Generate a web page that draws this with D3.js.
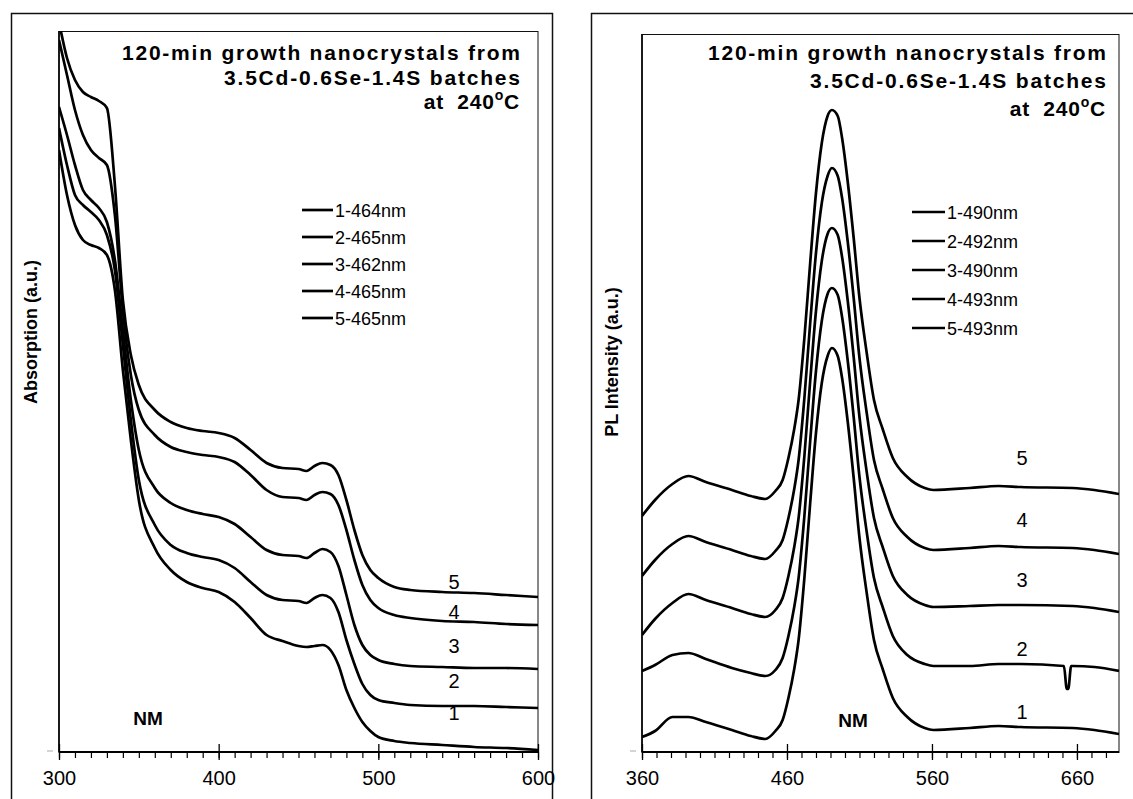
<!DOCTYPE html>
<html>
<head>
<meta charset="utf-8">
<script src="https://cdn.jsdelivr.net/npm/d3@7"></script>
<style>
  body { margin: 0; background: #fff; }
  svg { display: block; font-family: "Liberation Sans", Arial, sans-serif; }
  text { white-space: pre; }
</style>
</head>
<body>
<svg id="chart" width="1133" height="799"></svg>
<script>
// ---- data ----
const titleLines = ["120-min growth nanocrystals from", "3.5Cd-0.6Se-1.4S batches"];
const titleTemp = ["at  240", "o", "C"];

const absTicks = [300, 400, 500, 600];
const plTicks = [360, 460, 560, 660];

const absLegend = ["1-464nm", "2-465nm", "3-462nm", "4-465nm", "5-465nm"];
const plLegend = ["1-490nm", "2-492nm", "3-490nm", "4-493nm", "5-493nm"];
const curveNames = ["1", "2", "3", "4", "5"];

// absorption, wavelength (nm)
const absNm = [300,305,310,315,320,325,330,335,340,345,350,360,370,380,390,400,410,420,430,440,
  450,455,460,465,470,475,480,485,490,495,500,510,520,540,560,580,600];
const abs1 = [6.02,5.57,5.27,5.12,5.07,5.04,4.97,4.62,3.82,3.12,2.52,2.04,1.82,1.70,1.64,1.60,1.50,1.34,1.17,1.11,
  1.06,1.05,1.06,1.07,1.02,0.87,0.62,0.44,0.30,0.21,0.15,0.11,0.09,0.07,0.05,0.04,0.02];
const abs2 = [6.24,5.87,5.57,5.47,5.40,5.32,5.17,4.82,4.07,3.32,2.72,2.27,2.07,1.99,1.95,1.92,1.84,1.70,1.57,1.52,
  1.51,1.49,1.54,1.57,1.54,1.40,1.12,0.88,0.68,0.57,0.52,0.49,0.47,0.46,0.46,0.45,0.44];
const abs3 = [6.45,6.17,5.87,5.62,5.52,5.44,5.30,4.92,4.22,3.52,3.02,2.64,2.49,2.42,2.38,2.35,2.28,2.15,2.02,1.97,
  1.96,1.94,1.99,2.03,2.00,1.86,1.57,1.27,1.07,0.97,0.92,0.88,0.86,0.85,0.84,0.84,0.83];
const abs4 = [7.12,6.77,6.42,6.17,6.02,5.94,5.87,5.37,4.42,3.77,3.42,3.17,3.05,3.00,2.97,2.95,2.90,2.77,2.62,2.55,
  2.54,2.52,2.57,2.60,2.58,2.47,2.22,1.92,1.67,1.52,1.44,1.37,1.34,1.31,1.30,1.28,1.27];
const abs5 = [7.30,6.94,6.72,6.60,6.55,6.51,6.44,5.67,4.52,3.97,3.67,3.42,3.30,3.24,3.21,3.19,3.14,3.02,2.89,2.84,
  2.83,2.81,2.86,2.89,2.87,2.77,2.52,2.22,1.97,1.82,1.74,1.65,1.62,1.60,1.59,1.57,1.55];

// photoluminescence, wavelength (nm)
const plNm = [360,369,381,392,404,422,435,445,452,457,461,465,468,472,476,480,484,488,491,495,
  498,502,506,510,515,520,526,533,543,555,561,586,606,621,657,672,689];
const plNm2 = [360,369,381,392,404,422,435,445,452,457,461,465,468,472,476,480,484,488,491,495,
  498,502,506,510,515,520,526,533,543,555,561,586,606,621,651,653,654,656,657,672,689];
const pl1 = [0.15,0.21,0.35,0.35,0.30,0.22,0.16,0.13,0.21,0.32,0.54,0.83,1.12,1.74,2.49,3.19,3.69,3.96,4.04,3.96,
  3.74,3.29,2.74,2.14,1.59,1.12,0.83,0.54,0.35,0.24,0.22,0.24,0.26,0.25,0.24,0.22,0.18];
const pl2 = [0.81,0.87,0.97,0.99,0.93,0.84,0.79,0.76,0.82,0.94,1.16,1.45,1.74,2.36,3.11,3.81,4.31,4.58,4.64,4.57,
  4.35,3.90,3.35,2.75,2.20,1.74,1.45,1.16,0.97,0.88,0.86,0.86,0.88,0.88,0.86,0.63,0.63,0.86,0.86,0.85,0.81];
const pl3 = [1.17,1.33,1.49,1.58,1.52,1.44,1.38,1.35,1.42,1.54,1.76,2.05,2.34,2.96,3.71,4.41,4.91,5.18,5.24,5.17,
  4.95,4.50,3.95,3.35,2.80,2.34,2.05,1.76,1.57,1.47,1.45,1.46,1.47,1.47,1.46,1.44,1.40];
const pl4 = [1.76,1.92,2.08,2.16,2.10,2.02,1.96,1.93,2.01,2.12,2.34,2.63,2.92,3.54,4.29,4.99,5.49,5.76,5.84,5.76,
  5.54,5.09,4.54,3.94,3.39,2.92,2.63,2.34,2.15,2.04,2.02,2.04,2.06,2.05,2.04,2.02,1.98];
const pl5 = [2.36,2.52,2.68,2.76,2.70,2.62,2.56,2.53,2.61,2.72,2.94,3.23,3.52,4.14,4.89,5.59,6.09,6.36,6.42,6.36,
  6.14,5.69,5.14,4.54,3.99,3.52,3.23,2.94,2.75,2.64,2.62,2.64,2.66,2.65,2.64,2.62,2.58];

// ---- drawing ----
const svg = d3.select("#chart");
svg.append("rect").attr("width", 1133).attr("height", 799).attr("fill", "#fff");

const panels = [
  {
    frame: { x: 11, y: 13, w: 541 },
    plot: { x0: 59, x1: 538, y0: 31, y1: 752 },
    xDomain: [300, 600], yMax: 7.21, majors: absTicks,
    series: [[absNm, abs1], [absNm, abs2], [absNm, abs3], [absNm, abs4], [absNm, abs5]],
    yTitle: "Absorption (a.u.)", yTitlePos: [31, 332],
    titleRight: 520, titleY: [60, 85, 109], titleW: [398, 296],
    legend: absLegend, legendX: 302, legendLen: 31, legendY: [210, 237, 264, 291, 318],
    labelX: 454, labelY: [713, 681, 646, 612, 582],
    nm: [148, 718]
  },
  {
    frame: { x: 591, y: 13, w: 600 },
    plot: { x0: 642, x1: 1119, y0: 34, y1: 752 },
    xDomain: [360, 689], yMax: 7.18, majors: plTicks,
    series: [[plNm, pl1], [plNm2, pl2], [plNm, pl3], [plNm, pl4], [plNm, pl5]],
    yTitle: "PL Intensity (a.u.)", yTitlePos: [612, 362],
    titleRight: 1106, titleY: [60, 88, 116], titleW: [398, 296],
    legend: plLegend, legendX: 912, legendLen: 33, legendY: [212, 241, 270, 299, 328],
    labelX: 1022, labelY: [712, 649, 580, 520, 458],
    nm: [853, 720]
  }
];

panels.forEach((p, pi) => {
  const g = svg.append("g");
  const { x0, x1, y0, y1 } = p.plot;

  // outer chart frame
  g.append("rect")
    .attr("x", p.frame.x + 0.5).attr("y", p.frame.y + 0.5)
    .attr("width", p.frame.w).attr("height", 900)
    .attr("fill", "none").attr("stroke", "#111").attr("stroke-width", 1.5);

  const x = d3.scaleLinear().domain(p.xDomain).range([x0, x1]);
  const y = d3.scaleLinear().domain([0, p.yMax]).range([y1, y0]);

  // plot area border
  g.append("rect")
    .attr("x", x0).attr("y", y0 + 0.5)
    .attr("width", x1 - x0).attr("height", y1 - y0)
    .attr("fill", "none").attr("stroke", "#111").attr("stroke-width", 1);

  g.append("line")
    .attr("x1", x0).attr("x2", x0).attr("y1", y0).attr("y2", y1)
    .attr("stroke", "#000").attr("stroke-width", 1.6);

  // tiny grey tick at the bottom of the value axis
  g.append("line")
    .attr("x1", x0 - 12).attr("x2", x0 - 6).attr("y1", y1 - 1).attr("y2", y1 - 1)
    .attr("stroke", "#aaa").attr("stroke-width", 1);

  // minor ticks every 10 nm
  const minor = d3.range(p.xDomain[0], p.xDomain[1] + 1, 10);
  g.append("g")
    .attr("transform", `translate(0,${y1})`)
    .call(d3.axisBottom(x).tickValues(minor).tickSize(6).tickFormat(""))
    .call(a => a.select(".domain").remove())
    .call(a => a.selectAll(".tick line").attr("stroke", "#000").attr("stroke-width", 1.2));

  // major ticks crossing the axis, with labels
  g.append("g")
    .attr("transform", `translate(0,${y1})`)
    .call(d3.axisBottom(x).tickValues(p.majors).tickSize(8).tickPadding(11).tickFormat(d3.format("d")))
    .call(a => a.select(".domain").remove())
    .call(a => a.selectAll(".tick line").attr("y1", -8).attr("y2", 8)
      .attr("stroke", "#000").attr("stroke-width", 1.3))
    .call(a => a.selectAll(".tick text")
      .attr("font-size", 20).attr("fill", "#000")
      .attr("font-family", "Liberation Sans, Arial, sans-serif"));

  g.append("line")
    .attr("x1", x0).attr("x2", x1).attr("y1", y1).attr("y2", y1)
    .attr("stroke", "#000").attr("stroke-width", 2);

  // curves
  const clipId = "clip" + pi;
  g.append("clipPath").attr("id", clipId)
    .append("rect").attr("x", x0).attr("y", y0).attr("width", x1 - x0).attr("height", y1 - y0);

  const line = d3.line()
    .x(d => x(d[0]))
    .y(d => y(d[1]))
    .curve(d3.curveMonotoneX);

  g.append("g").attr("clip-path", `url(#${clipId})`)
    .selectAll("path")
    .data(p.series.map(([nm, v]) => nm.map((n, i) => [n, v[i]])))
    .join("path")
    .attr("d", line)
    .attr("fill", "none")
    .attr("stroke", "#000")
    .attr("stroke-width", 2.7)
    .attr("stroke-linejoin", "round");

  // curve numbers
  g.selectAll(".cnum")
    .data(curveNames)
    .join("text")
    .attr("x", p.labelX)
    .attr("y", (d, i) => p.labelY[i] + 7)
    .attr("text-anchor", "middle")
    .attr("font-size", 20)
    .text(d => d);

  // title block
  g.selectAll(".ttl")
    .data(titleLines)
    .join("text")
    .attr("x", p.titleRight)
    .attr("y", (d, i) => p.titleY[i])
    .attr("text-anchor", "end")
    .attr("font-size", 21)
    .attr("font-weight", "bold")
    .attr("textLength", (d, i) => p.titleW[i])
    .attr("lengthAdjust", "spacing")
    .text(d => d);

  const t3 = g.append("text")
    .attr("x", p.titleRight)
    .attr("y", p.titleY[2])
    .attr("text-anchor", "end")
    .attr("font-size", 21)
    .attr("font-weight", "bold")
    .attr("letter-spacing", 0.8);
  t3.append("tspan").text(titleTemp[0]);
  t3.append("tspan").attr("font-size", 14).attr("dy", -9).text(titleTemp[1]);
  t3.append("tspan").attr("dy", 9).text(titleTemp[2]);

  // legend
  p.legend.forEach((lab, i) => {
    const ly = p.legendY[i];
    g.append("line")
      .attr("x1", p.legendX).attr("x2", p.legendX + p.legendLen)
      .attr("y1", ly).attr("y2", ly)
      .attr("stroke", "#000").attr("stroke-width", 2.7);
    g.append("text")
      .attr("x", p.legendX + p.legendLen + 2).attr("y", ly + 7)
      .attr("font-size", 18)
      .text(lab);
  });

  // axis titles
  g.append("text")
    .attr("transform", `translate(${p.yTitlePos[0]},${p.yTitlePos[1]}) rotate(-90)`)
    .attr("text-anchor", "middle")
    .attr("dy", "0.35em")
    .attr("font-size", 18)
    .attr("font-weight", "bold")
    .text(p.yTitle);

  g.append("text")
    .attr("x", p.nm[0]).attr("y", p.nm[1] + 7)
    .attr("text-anchor", "middle")
    .attr("font-size", 19)
    .attr("font-weight", "bold")
    .text("NM");
});
</script>
</body>
</html>
